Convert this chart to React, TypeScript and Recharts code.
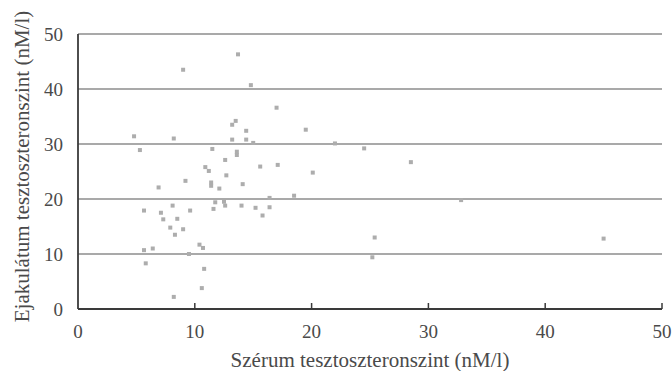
import { ScatterChart, Scatter, XAxis, YAxis, CartesianGrid } from "recharts";

// Szérum tesztoszteronszint (nM/l)
const serum = [
    4.8, 5.3, 5.65, 5.65, 5.8, 6.4, 6.9, 7.1, 7.3, 7.9, 8.1, 8.2, 8.2, 8.3, 8.5, 9.0, 9.0, 9.2, 9.5, 9.6,
    10.4, 10.6, 10.7, 10.8, 10.9, 11.2, 11.4, 11.4, 11.5, 11.6, 11.75, 12.1, 12.5, 12.6, 12.6, 12.7,
    13.2, 13.2, 13.5, 13.6, 13.6, 13.7, 14.0, 14.1, 14.4, 14.4, 14.8, 15.0, 15.2, 15.6, 15.8, 16.4,
    16.4, 17.0, 17.1, 18.5, 19.5, 20.1, 22.0, 24.5, 25.2, 25.4, 28.5, 32.8, 45.0,
];

// Ejakulátum tesztoszteronszint (nM/l)
const ejakulatum = [
    31.4, 28.9, 17.9, 10.7, 8.3, 11.0, 22.1, 17.5, 16.3, 14.8, 18.8, 31.0, 2.2, 13.5, 16.4, 43.5, 14.5, 23.3, 10.0, 17.9,
    11.7, 3.8, 11.1, 7.3, 25.8, 25.1, 23.0, 22.4, 29.1, 18.2, 19.4, 21.9, 19.5, 18.8, 27.1, 24.3,
    30.8, 33.5, 34.2, 28.6, 28.0, 46.3, 18.8, 22.7, 32.4, 30.8, 40.7, 30.2, 18.4, 25.9, 17.0, 20.2,
    18.5, 36.6, 26.2, 20.6, 32.6, 24.8, 30.1, 29.2, 9.4, 13.0, 26.7, 19.8, 12.8,
];

const xTicks = [0, 10, 20, 30, 40, 50];
const yTicks = [0, 10, 20, 30, 40, 50];

const points = serum.map((x, i) => ({ x, y: ejakulatum[i] }));

const FONT = "Liberation Serif";
const INK = "#3a3a3a";
const TEXT = "#4a4a4a";

function XTick(props: any) {
    const { x, y, payload } = props;
    return (
        <g>
            {payload.value !== 0 && (
                <line x1={x} x2={x} y1={y} y2={y - 6} stroke={INK} strokeWidth={1.5} />
            )}
            <text x={x} y={y + 29} textAnchor="middle" fontSize={19} fontFamily={FONT} fill={TEXT}>
                {payload.value}
            </text>
        </g>
    );
}

function Dot(props: any) {
    const { cx, cy } = props;
    return <rect x={cx - 2} y={cy - 2} width={4} height={4} fill="#adadad" />;
}

export default function App() {
    return (
        <div style={{ position: "absolute", left: 0, top: 0, background: "#fff" }}>
            <ScatterChart width={672} height={371} margin={{ top: 34, right: 10, bottom: 0, left: 0 }}>
                <CartesianGrid vertical={false} stroke="#555" strokeWidth={1.2} />
                <XAxis
                    type="number"
                    dataKey="x"
                    domain={[0, 50]}
                    ticks={xTicks}
                    height={62}
                    axisLine={{ stroke: INK, strokeWidth: 1.8 }}
                    tickLine={false}
                    tickSize={0}
                    tickMargin={0}
                    tick={<XTick />}
                    label={{
                        value: "Szérum tesztoszteronszint (nM/l)",
                        position: "insideBottom",
                        offset: 4,
                        style: { fontFamily: FONT, fontSize: 21, fill: TEXT },
                    }}
                />
                <YAxis
                    type="number"
                    dataKey="y"
                    domain={[0, 50]}
                    ticks={yTicks}
                    width={78}
                    axisLine={{ stroke: INK, strokeWidth: 1.8 }}
                    tickLine={false}
                    tickMargin={9}
                    tick={{ fontFamily: FONT, fontSize: 19, fill: TEXT }}
                    label={{
                        value: "Ejakulátum tesztoszteronszint (nM/l)",
                        angle: -90,
                        position: "center",
                        dx: -17,
                        dy: -5,
                        style: { fontFamily: FONT, fontSize: 21, fill: TEXT, textAnchor: "middle" },
                    }}
                />
                <Scatter data={points} shape={<Dot />} isAnimationActive={false} />
            </ScatterChart>
        </div>
    );
}
